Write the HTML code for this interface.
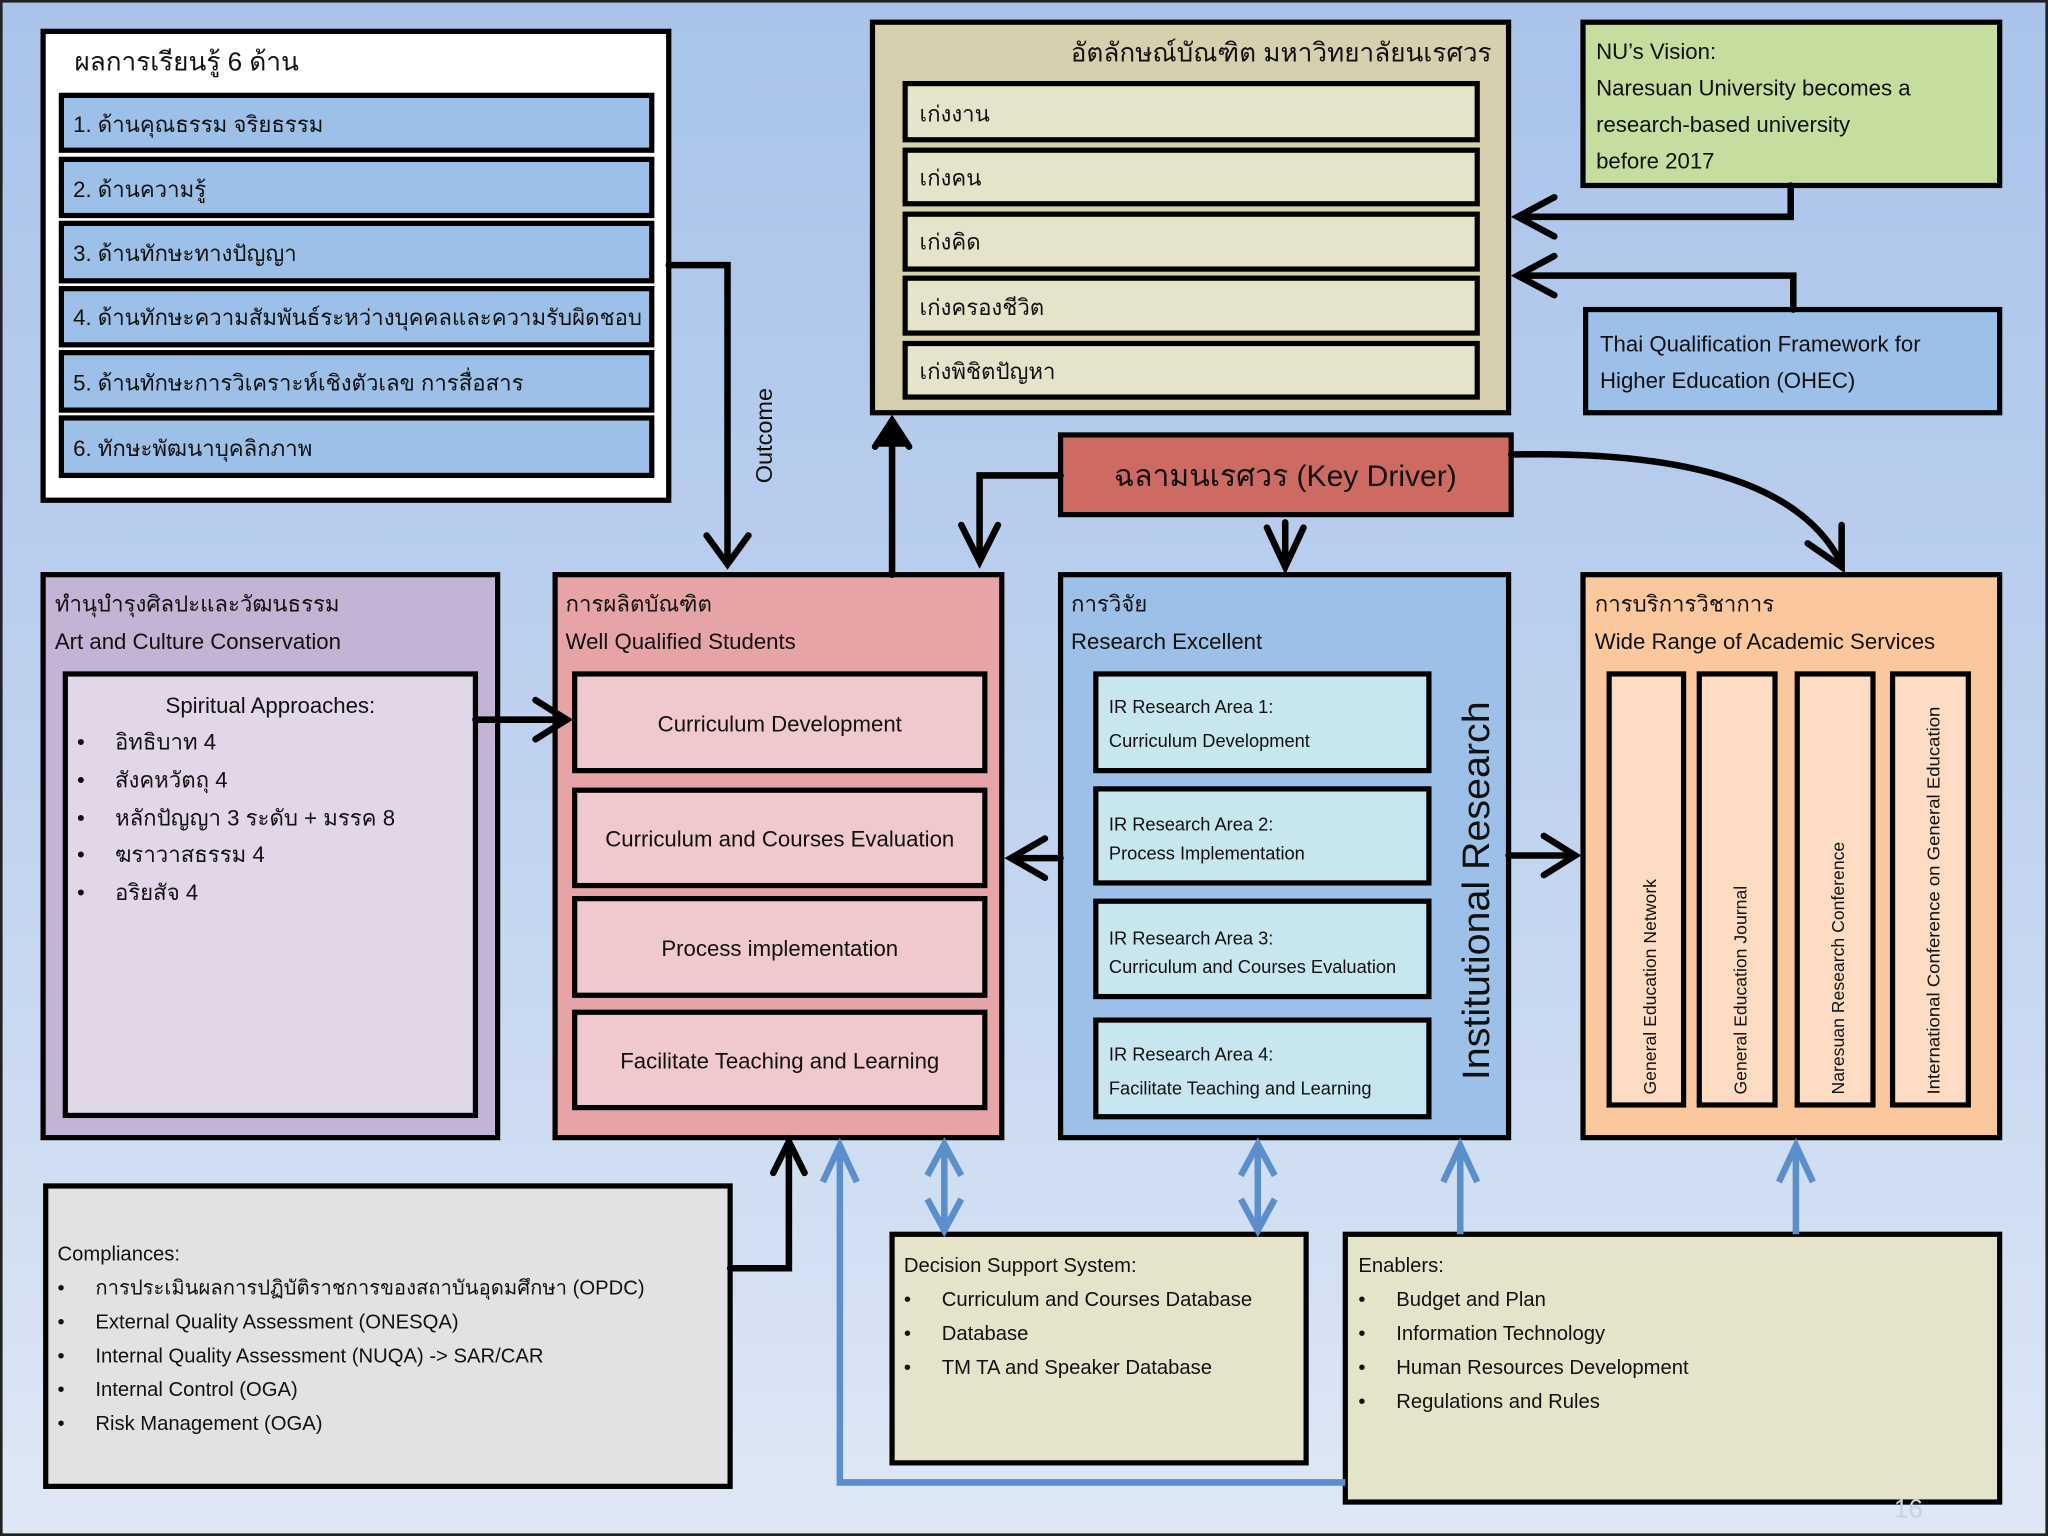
<!DOCTYPE html>
<html><head><meta charset="utf-8">
<style>
html,body{margin:0;padding:0;width:2048px;height:1536px;overflow:hidden}
svg{display:block}
text{font-family:"Liberation Sans","Noto Sans CJK SC",sans-serif;fill:#111}
</style></head><body>
<svg width="2048" height="1536" viewBox="0 0 1568 1176" xmlns="http://www.w3.org/2000/svg">
<defs>
<linearGradient id="bg" x1="0" y1="0" x2="0" y2="1">
<stop offset="0" stop-color="#a9c3ea"/><stop offset="0.5" stop-color="#bfd2ef"/><stop offset="1" stop-color="#dfe8f5"/>
</linearGradient>
</defs>
<rect width="1568" height="1176" fill="url(#bg)"/>
<rect x="1" y="1" width="1566" height="1174" fill="none" stroke="#222" stroke-width="2"/>

<g stroke="#000" stroke-width="4">
<rect x="33" y="24" width="479" height="359" fill="#fff"/>
<rect x="47" y="73" width="452" height="42" fill="#9dc0e8"/>
<rect x="47" y="122" width="452" height="43" fill="#9dc0e8"/>
<rect x="47" y="171" width="452" height="44" fill="#9dc0e8"/>
<rect x="47" y="221" width="452" height="43" fill="#9dc0e8"/>
<rect x="47" y="270" width="452" height="44" fill="#9dc0e8"/>
<rect x="47" y="320" width="452" height="44" fill="#9dc0e8"/>
<rect x="668" y="17" width="487" height="299" fill="#d6d0ae"/>
<rect x="693" y="64" width="438" height="43" fill="#e6e3cb"/>
<rect x="693" y="115" width="438" height="41" fill="#e6e3cb"/>
<rect x="693" y="164" width="438" height="42" fill="#e6e3cb"/>
<rect x="693" y="213" width="438" height="42" fill="#e6e3cb"/>
<rect x="693" y="263" width="438" height="41" fill="#e6e3cb"/>
<rect x="1212" y="17" width="319" height="125" fill="#c5dea0"/>
<rect x="1214" y="237" width="317" height="79" fill="#9dc0e8"/>
<rect x="812" y="333" width="345" height="61" fill="#cd6a62"/>
<rect x="33" y="440" width="348" height="431" fill="#c3b3d5"/>
<rect x="50" y="516" width="314" height="338" fill="#e2d7e9"/>
<rect x="425" y="440" width="342" height="431" fill="#e6a4a6"/>
<rect x="440" y="516" width="314" height="74" fill="#f0c9cc"/>
<rect x="440" y="605" width="314" height="73" fill="#f0c9cc"/>
<rect x="440" y="688" width="314" height="74" fill="#f0c9cc"/>
<rect x="440" y="775" width="314" height="73" fill="#f0c9cc"/>
<rect x="812" y="440" width="343" height="431" fill="#9dc0e8"/>
<rect x="839" y="516" width="255" height="74" fill="#c8e6ee"/>
<rect x="839" y="604" width="255" height="72" fill="#c8e6ee"/>
<rect x="839" y="690" width="255" height="73" fill="#c8e6ee"/>
<rect x="839" y="781" width="255" height="74" fill="#c8e6ee"/>
<rect x="1212" y="440" width="319" height="431" fill="#fbc89e"/>
<rect x="1232" y="516" width="57" height="330" fill="#fddcc3"/>
<rect x="1301" y="516" width="58" height="330" fill="#fddcc3"/>
<rect x="1376" y="516" width="58" height="330" fill="#fddcc3"/>
<rect x="1449" y="516" width="58" height="330" fill="#fddcc3"/>
<rect x="35" y="908" width="524" height="230" fill="#e2e2e2"/>
<rect x="683" y="945" width="317" height="175" fill="#e6e3cb"/>
<rect x="1030" y="945" width="501" height="205" fill="#e6e3cb"/>
</g>

<g fill="none" stroke="#000" stroke-width="5" stroke-linecap="round">
<path d="M512 203 H557 V430"/><path d="M541 410 L557 432 L573 410"/>
<path d="M683 440 V325"/><path d="M670 342 L683 322 L696 342" fill="#000"/>
<path d="M1371 142 V166 H1162"/><path d="M1190 151 L1162 166 L1190 181"/>
<path d="M1373 237 V211 H1162"/><path d="M1190 196 L1162 211 L1190 226"/>
<path d="M812 364 H750 V428"/><path d="M736 402 L750 430 L764 402"/>
<path d="M984 400 V434"/><path d="M970 404 L984 434 L998 404"/>
<path d="M1157 348 C1290 345 1380 370 1410 432"/><path d="M1384 416 L1410 434 L1410 402"/>
<path d="M364 551 H432"/><path d="M410 536 L434 551 L410 566"/>
<path d="M812 657 H776"/><path d="M800 642 L774 657 L800 672"/>
<path d="M1155 655 H1205"/><path d="M1182 640 L1206 655 L1182 670"/>
<path d="M559 971 H604 V878"/><path d="M592 898 L604 874 L616 898"/>
</g>
<g fill="none" stroke="#5b8fcb" stroke-width="5">
<path d="M1030 1135 H643 V880"/><path d="M630 905 L643 877 L656 905"/>
<path d="M723 878 V940"/><path d="M710 900 L723 876 L736 900 M710 918 L723 942 L736 918"/>
<path d="M963 878 V940"/><path d="M950 900 L963 876 L976 900 M950 918 L963 942 L976 918"/>
<path d="M1118 945 V880"/><path d="M1105 905 L1118 877 L1131 905"/>
<path d="M1375 945 V880"/><path d="M1362 905 L1375 877 L1388 905"/>
</g>

<text x="57" y="54" font-size="20">ผลการเรียนรู้  6 ด้าน</text>
<g font-size="17">
<text x="56" y="101">1. ด้านคุณธรรม จริยธรรม</text>
<text x="56" y="151">2. ด้านความรู้</text>
<text x="56" y="200">3. ด้านทักษะทางปัญญา</text>
<text x="56" y="249">4. ด้านทักษะความสัมพันธ์ระหว่างบุคคลและความรับผิดชอบ</text>
<text x="56" y="299">5. ด้านทักษะการวิเคราะห์เชิงตัวเลข การสื่อสาร</text>
<text x="56" y="349">6. ทักษะพัฒนาบุคลิกภาพ</text>
</g>
<text transform="translate(591,370) rotate(-90)" font-size="18">Outcome</text>

<text x="1142" y="47" font-size="20" text-anchor="end">อัตลักษณ์บัณฑิต มหาวิทยาลัยนเรศวร</text>
<g font-size="17">
<text x="704" y="93">เก่งงาน</text>
<text x="704" y="142">เก่งคน</text>
<text x="704" y="191">เก่งคิด</text>
<text x="704" y="241">เก่งครองชีวิต</text>
<text x="704" y="290">เก่งพิชิตปัญหา</text>
<text x="1222" y="45">NU’s Vision:</text>
<text x="1222" y="73">Naresuan University becomes a</text>
<text x="1222" y="101">research-based university</text>
<text x="1222" y="129">before 2017</text>
<text x="1225" y="269">Thai Qualification Framework for</text>
<text x="1225" y="297">Higher Education  (OHEC)</text>
</g>
<text x="984" y="372" font-size="23" text-anchor="middle">ฉลามนเรศวร (Key Driver)</text>

<g font-size="17">
<text x="42" y="468">ทำนุบำรุงศิลปะและวัฒนธรรม</text>
<text x="42" y="497">Art and Culture Conservation</text>
<text x="207" y="546" text-anchor="middle">Spiritual Approaches:</text>
<text x="59" y="574">•</text><text x="88" y="574">อิทธิบาท 4</text>
<text x="59" y="603">•</text><text x="88" y="603">สังคหวัตถุ 4</text>
<text x="59" y="632">•</text><text x="88" y="632">หลักปัญญา 3 ระดับ + มรรค 8</text>
<text x="59" y="660">•</text><text x="88" y="660">ฆราวาสธรรม 4</text>
<text x="59" y="689">•</text><text x="88" y="689">อริยสัจ 4</text>

<text x="433" y="468">การผลิตบัณฑิต</text>
<text x="433" y="497">Well Qualified Students</text>
<text x="597" y="560" text-anchor="middle">Curriculum Development</text>
<text x="597" y="648" text-anchor="middle">Curriculum and Courses  Evaluation</text>
<text x="597" y="732" text-anchor="middle">Process implementation</text>
<text x="597" y="818" text-anchor="middle">Facilitate Teaching and Learning</text>

<text x="820" y="468">การวิจัย</text>
<text x="820" y="497">Research Excellent</text>
<text x="1221" y="468">การบริการวิชาการ</text>
<text x="1221" y="497">Wide Range of Academic Services</text>
</g>
<g font-size="14">
<text x="849" y="546">IR Research Area 1:</text><text x="849" y="572">Curriculum Development</text>
<text x="849" y="636">IR Research Area 2:</text><text x="849" y="658">Process Implementation</text>
<text x="849" y="723">IR Research Area 3:</text><text x="849" y="745">Curriculum and Courses  Evaluation</text>
<text x="849" y="812">IR Research Area 4:</text><text x="849" y="838">Facilitate Teaching and Learning</text>
</g>
<text transform="translate(1140,682) rotate(-90)" font-size="29" text-anchor="middle" textLength="290" lengthAdjust="spacingAndGlyphs">Institutional Research</text>
<g font-size="13.5">
<text transform="translate(1268,838) rotate(-90)">General Education Network</text>
<text transform="translate(1337,838) rotate(-90)">General Education Journal</text>
<text transform="translate(1412,838) rotate(-90)">Naresuan Research Conference</text>
<text transform="translate(1485,838) rotate(-90)" textLength="297" lengthAdjust="spacingAndGlyphs">International Conference on General Education</text>
</g>

<g font-size="15.5">
<text x="44" y="965">Compliances:</text>
<text x="44" y="991">•</text><text x="73" y="991">การประเมินผลการปฏิบัติราชการของสถาบันอุดมศึกษา (OPDC)</text>
<text x="44" y="1017">•</text><text x="73" y="1017">External Quality Assessment (ONESQA)</text>
<text x="44" y="1043">•</text><text x="73" y="1043">Internal Quality Assessment (NUQA) -&gt; SAR/CAR</text>
<text x="44" y="1069">•</text><text x="73" y="1069">Internal Control (OGA)</text>
<text x="44" y="1095">•</text><text x="73" y="1095">Risk Management (OGA)</text>

<text x="692" y="974">Decision Support System:</text>
<text x="692" y="1000">•</text><text x="721" y="1000">Curriculum and  Courses  Database</text>
<text x="692" y="1026">•</text><text x="721" y="1026">Database</text>
<text x="692" y="1052">•</text><text x="721" y="1052">TM TA and Speaker Database</text>

<text x="1040" y="974">Enablers:</text>
<text x="1040" y="1000">•</text><text x="1069" y="1000">Budget and Plan</text>
<text x="1040" y="1026">•</text><text x="1069" y="1026">Information Technology</text>
<text x="1040" y="1052">•</text><text x="1069" y="1052">Human Resources Development</text>
<text x="1040" y="1078">•</text><text x="1069" y="1078">Regulations and Rules</text>
</g>
<text x="1450" y="1162" font-size="20" style="fill:#c8d2e0">16</text>
</svg>
</body></html>
